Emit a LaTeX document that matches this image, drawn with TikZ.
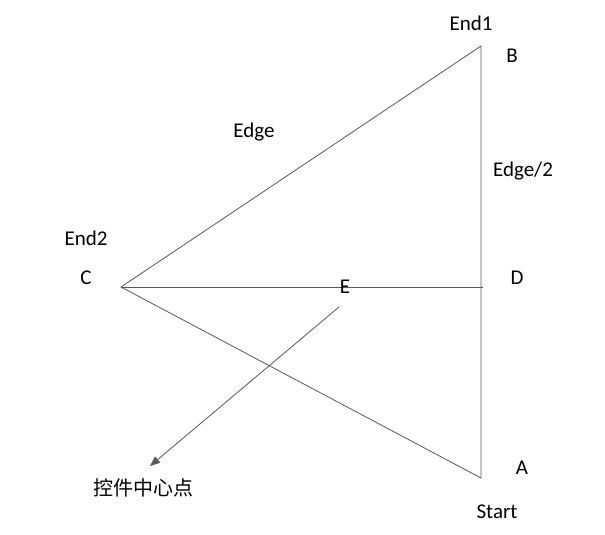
\documentclass[tikz,border=0pt]{standalone}
\usepackage{fontspec}
\setmainfont{Carlito}
\newfontfamily\cjk{Noto Sans CJK SC}
\usetikzlibrary{arrows.meta}
\begin{document}
\begin{tikzpicture}[x=1pt,y=-1pt,
  seg/.style={draw=black!65, line width=0.8pt},
  lbl/.style={font=\fontsize{21}{24}\selectfont, inner sep=0pt, text=black}]
\useasboundingbox[fill=white] (0,0) rectangle (605,535);
\coordinate (B) at (481,46);
\coordinate (A) at (481,478);
\coordinate (C) at (121,287);
\coordinate (D) at (483,287);
\coordinate (Es) at (339,307);
\coordinate (Et) at (150,466);
\draw[seg] (B) -- (C) -- (A) -- cycle;
\draw[seg] (C) -- (D);
\draw[seg, -{Triangle[length=10pt,width=8pt]}] (Es) -- (Et);
\node[lbl] (lEnd1) at (471,23) {End1};
\node[lbl] (lB) at (512,56) {B};
\node[lbl] (lEdge) at (254,132) {Edge};
\node[lbl] (lEdge2) at (523,171) {Edge/2};
\node[lbl] (lEnd2) at (86,238) {End2};
\node[lbl] (lC) at (86,278) {C};
\node[lbl] (lE) at (345,287) {E};
\node[lbl] (lD) at (517,278) {D};
\node[lbl] (lA) at (522,468) {A};
\node[lbl] (lStart) at (497,512) {Start};
\node[lbl, font=\cjk\fontsize{20}{23}\selectfont] (lCenter) at (143,488) {控件中心点};
\end{tikzpicture}
\end{document}
